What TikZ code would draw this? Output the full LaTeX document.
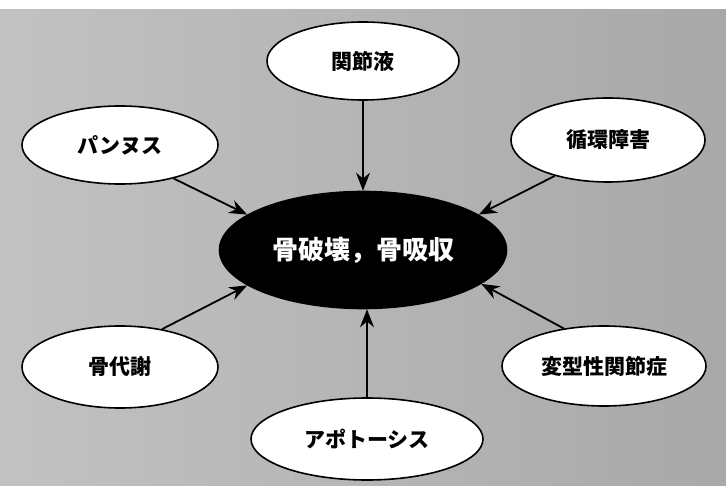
\documentclass[tikz,border=0pt]{standalone}
\usepackage{fontspec}
\newfontfamily\jp{Noto Sans CJK JP}
\usetikzlibrary{shapes.geometric,arrows.meta}
\begin{document}
\begin{tikzpicture}[x=1pt,y=-1pt,
 sat/.style={ellipse,draw=black,line width=1.6pt,fill=white,inner sep=0pt,font=\jp\bfseries\fontsize{21}{25}\selectfont},
 core/.style={ellipse,draw=black,line width=1.6pt,fill=black,inner sep=0pt,text=white,font=\jp\bfseries\fontsize{26}{30}\selectfont},
 arr/.style={line width=1.8pt,-{Stealth[length=18pt,width=14pt]}}]
\useasboundingbox (0,0) rectangle (726,486);
\fill[white] (0,0) rectangle (726,486);
\shade[left color=black!24,right color=black!34] (0,10) rectangle (726,486);
\node[core,minimum width=287pt,minimum height=117pt] (c) at (363,250) {\raisebox{-3pt}{骨破壊，骨吸収}};
\node[sat,minimum width=192pt,minimum height=78pt] (kan) at (363,61) {関節液};
\node[sat,minimum width=196pt,minimum height=78pt] (pan) at (120,145) {パンヌス};
\node[sat,minimum width=194pt,minimum height=84pt] (jun) at (608,140) {循環障害};
\node[sat,minimum width=196pt,minimum height=82pt] (kot) at (120,367) {骨代謝};
\node[sat,minimum width=204pt,minimum height=80pt] (hen) at (604,366) {変型性関節症};
\node[sat,minimum width=232pt,minimum height=82pt] (apo) at (367,439) {アポトーシス};
\draw[arr] (kan.south) -- (c.north);
\draw[arr] (apo.north) -- (apo.north |- c.south);
\draw[arr] (pan.-32) -- (c.163.5);
\draw[arr] (jun.214) -- (c.17);
\draw[arr] (kot.42) -- (c.197);
\draw[arr] (hen.137) -- (c.-16);
\end{tikzpicture}
\end{document}
